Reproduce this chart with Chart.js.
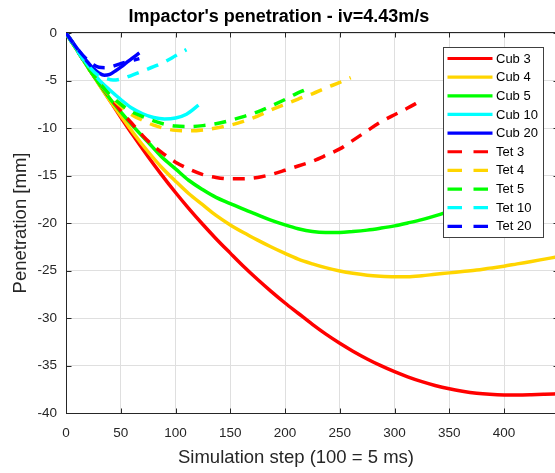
<!DOCTYPE html>
<html>
<head>
<meta charset="utf-8">
<script src="https://cdn.jsdelivr.net/npm/chart.js@4/dist/chart.umd.min.js"></script>
<style>
  html, body { margin: 0; padding: 0; overflow: hidden; background: #fff; }
  canvas { display: block; }
</style>
</head>
<body>
<canvas id="c" width="590" height="473"></canvas>
<script>
// Cubic-mesh runs (solid lines): simulation step vs penetration in mm
const cub3Steps = [0, 10, 20, 30, 40, 50, 62, 75, 87, 100, 112, 125, 137, 150, 162, 175, 187, 200, 212, 225, 237, 250, 262, 275, 287, 300, 312, 325, 337, 350, 362, 375, 387, 400, 412, 425, 437, 449];
const cub3Pen   = [0, -1.78, -3.56, -5.34, -7.11, -8.86, -10.9, -13.02, -14.88, -16.79, -18.46, -20.16, -21.65, -23.17, -24.55, -25.95, -27.17, -28.42, -29.5, -30.67, -31.67, -32.66, -33.49, -34.31, -34.99, -35.65, -36.19, -36.7, -37.1, -37.45, -37.7, -37.91, -38.03, -38.1, -38.11, -38.08, -38.03, -37.97];

const cub4Steps = [0, 10, 20, 30, 40, 50, 62, 75, 87, 100, 112, 125, 137, 150, 162, 175, 187, 200, 212, 225, 237, 250, 262, 275, 287, 300, 312, 325, 337, 350, 362, 375, 387, 400, 412, 425, 437, 449];
const cub4Pen   = [0, -1.8, -3.6, -5.4, -7.1, -8.7, -10.6, -12.5, -14.1, -15.6, -16.9, -18.1, -19.2, -20.2, -21.0, -21.8, -22.5, -23.2, -23.8, -24.3, -24.7, -25.05, -25.3, -25.5, -25.6, -25.65, -25.65, -25.55, -25.4, -25.25, -25.1, -24.95, -24.75, -24.55, -24.3, -24.05, -23.8, -23.55];

const cub5Steps = [0, 10, 20, 30, 40, 50, 62, 75, 87, 100, 112, 125, 137, 150, 162, 175, 187, 200, 212, 225, 237, 250, 262, 275, 287, 300, 312, 325, 337, 345, 357, 370];
const cub5Pen   = [0, -1.8, -3.6, -5.3, -6.9, -8.3, -9.9, -11.5, -13.0, -14.3, -15.5, -16.5, -17.3, -17.95, -18.55, -19.15, -19.7, -20.2, -20.6, -20.9, -21.0, -21.0, -20.9, -20.75, -20.55, -20.3, -20.0, -19.65, -19.25, -18.95, -18.4, -17.7];

const cub10Steps = [0, 10, 20, 30, 40, 50, 60, 70, 80, 90, 100, 110, 121];
const cub10Pen   = [0, -1.7, -3.4, -4.9, -6.0, -7.0, -7.9, -8.5, -8.9, -9.05, -8.95, -8.55, -7.6];

const cub20Steps = [0, 5, 10, 15, 20, 25, 30, 35, 40, 45, 50, 55, 60, 67];
const cub20Pen   = [0, -0.8, -1.6, -2.4, -3.1, -3.75, -4.2, -4.45, -4.35, -4.0, -3.6, -3.15, -2.7, -2.1];

// Tetrahedral-mesh runs (dashed lines)
const tet3Steps = [0, 10, 20, 30, 40, 50, 60, 70, 80, 90, 100, 112, 125, 137, 150, 162, 175, 187, 200, 212, 225, 237, 250, 262, 275, 287, 300, 312, 323];
const tet3Pen   = [0, -1.8, -3.6, -5.2, -6.7, -8.2, -9.5, -10.8, -11.9, -12.8, -13.6, -14.3, -14.9, -15.2, -15.35, -15.35, -15.2, -14.9, -14.45, -14.0, -13.5, -12.9, -12.2, -11.3, -10.3, -9.4, -8.6, -7.9, -7.2];

const tet4Steps = [0, 10, 20, 30, 40, 50, 60, 70, 80, 90, 100, 112, 125, 137, 150, 162, 175, 187, 200, 212, 225, 237, 250, 260];
const tet4Pen   = [0, -1.8, -3.6, -5.2, -6.6, -7.7, -8.6, -9.2, -9.7, -10.05, -10.25, -10.3, -10.2, -10.0, -9.7, -9.3, -8.75, -8.1, -7.5, -6.95, -6.4, -5.8, -5.2, -4.7];

const tet5Steps = [0, 10, 20, 30, 40, 50, 60, 70, 80, 90, 100, 112, 125, 137, 150, 162, 175, 187, 200, 210, 218];
const tet5Pen   = [0, -1.8, -3.6, -5.2, -6.5, -7.5, -8.3, -8.8, -9.25, -9.6, -9.8, -9.85, -9.75, -9.55, -9.2, -8.8, -8.3, -7.7, -7.0, -6.4, -6.0];

const tet10Steps = [0, 10, 20, 30, 37, 43, 50, 60, 70, 80, 90, 100, 110];
const tet10Pen   = [0, -1.8, -3.4, -4.5, -4.8, -4.95, -4.85, -4.45, -4.0, -3.55, -3.05, -2.4, -1.75];

const tet20Steps = [0, 10, 20, 25, 30, 37, 43, 48, 55, 62, 67];
const tet20Pen   = [0, -1.6, -2.9, -3.35, -3.6, -3.65, -3.5, -3.3, -3.05, -2.85, -2.7];

// Axis ranges and tick labels
const stepMax = 449;
const xTicks = [0, 50, 100, 150, 200, 250, 300, 350, 400];
const penMin = -40;
const penMax = 0;
const yTicks = [-40, -35, -30, -25, -20, -15, -10, -5, 0];

const seriesLabels = ['Cub 3', 'Cub 4', 'Cub 5', 'Cub 10', 'Cub 20', 'Tet 3', 'Tet 4', 'Tet 5', 'Tet 10', 'Tet 20'];
const seriesSteps  = [cub3Steps, cub4Steps, cub5Steps, cub10Steps, cub20Steps, tet3Steps, tet4Steps, tet5Steps, tet10Steps, tet20Steps];
const seriesPen    = [cub3Pen, cub4Pen, cub5Pen, cub10Pen, cub20Pen, tet3Pen, tet4Pen, tet5Pen, tet10Pen, tet20Pen];
const seriesColors = ['#ff0000', '#ffd500', '#00ff00', '#00ffff', '#0000ff', '#ff0000', '#ffd500', '#00ff00', '#00ffff', '#0000ff'];

const FONT = "'Liberation Sans', Arial, Helvetica, sans-serif";
const INK = '#262626';
const X_TITLE = 'Simulation step (100 = 5 ms)';

const datasets = seriesLabels.map((label, i) => ({
  label,
  data: seriesSteps[i].map((s, k) => ({ x: s, y: seriesPen[i][k] })),
  borderColor: seriesColors[i],
  backgroundColor: seriesColors[i],
  borderWidth: 3.5,
  borderDash: label.startsWith('Tet') ? [12, 9] : [],
  borderCapStyle: 'butt',
  pointRadius: 0,
  fill: false,
  cubicInterpolationMode: 'monotone',
  order: seriesLabels.length - i   // later series are painted on top
}));

// Box around the plot area with inward tick marks on all four sides
const axisFrame = {
  id: 'axisFrame',
  beforeDatasetsDraw(chart) {
    const { ctx, chartArea: a, scales: { x, y } } = chart;
    ctx.save();
    ctx.strokeStyle = INK;
    ctx.lineWidth = 1;
    ctx.setLineDash([]);
    const L = Math.round(a.left) + 0.5, R = Math.round(a.right) + 0.5;
    const T = Math.round(a.top) - 0.5, B = Math.round(a.bottom) + 0.5;
    ctx.strokeRect(L, T, R - L, B - T);
    const tl = 5;
    ctx.beginPath();
    x.ticks.forEach(t => {
      const px = Math.round(x.getPixelForValue(t.value)) + 0.5;
      ctx.moveTo(px, B); ctx.lineTo(px, B - tl);
      ctx.moveTo(px, T); ctx.lineTo(px, T + tl);
    });
    y.ticks.forEach(t => {
      const py = Math.round(y.getPixelForValue(t.value)) + 0.5;
      ctx.moveTo(L, py); ctx.lineTo(L + tl, py);
      ctx.moveTo(R, py); ctx.lineTo(R - tl, py);
    });
    ctx.stroke();
    ctx.restore();
  }
};

// x-axis label, centred under the figure title
const xAxisLabel = {
  id: 'xAxisLabel',
  afterDraw(chart) {
    const { ctx } = chart;
    ctx.save();
    ctx.fillStyle = INK;
    ctx.font = '18.5px ' + FONT;
    ctx.textAlign = 'center';
    ctx.textBaseline = 'middle';
    ctx.fillText(X_TITLE, chart.width / 2 + 1, 458);
    ctx.restore();
  }
};

// Boxed legend in the upper right, painted over the curves
const boxedLegend = {
  id: 'boxedLegend',
  afterDatasetsDraw(chart) {
    const { ctx } = chart;
    const bx = 443, by = 47, bw = 100, bh = 190, rowH = 18.65;
    ctx.save();
    ctx.fillStyle = '#ffffff';
    ctx.fillRect(bx, by, bw, bh);
    ctx.strokeStyle = '#404040';
    ctx.lineWidth = 1;
    ctx.setLineDash([]);
    ctx.strokeRect(bx + 0.5, by + 0.5, bw, bh);
    ctx.font = '13px ' + FONT;
    ctx.textBaseline = 'middle';
    ctx.textAlign = 'left';
    chart.data.datasets.forEach((ds, i) => {
      const cy = by + 11.5 + i * rowH;
      ctx.beginPath();
      ctx.strokeStyle = ds.borderColor;
      ctx.lineWidth = 3.2;
      ctx.lineCap = 'butt';
      ctx.setLineDash(ds.borderDash && ds.borderDash.length ? [14.5, 11.5] : []);
      ctx.moveTo(bx + 4.5, cy);
      ctx.lineTo(bx + 49.5, cy);
      ctx.stroke();
      ctx.setLineDash([]);
      ctx.fillStyle = '#000000';
      ctx.fillText(ds.label, bx + 53, cy + 0.5);
    });
    ctx.restore();
  }
};

new Chart(document.getElementById('c'), {
  type: 'line',
  data: { datasets },
  plugins: [axisFrame, boxedLegend, xAxisLabel],
  options: {
    responsive: false,
    devicePixelRatio: 1,
    animation: false,
    layout: { padding: { left: 0, right: 32.3, top: 0, bottom: 0 } },
    plugins: {
      legend: { display: false },
      tooltip: { enabled: false },
      title: {
        display: true,
        text: "Impactor's penetration - iv=4.43m/s",
        color: '#000000',
        font: { family: FONT, size: 18, weight: 'bold', lineHeight: 1.2 },
        padding: { top: 6, bottom: 5.4 }
      }
    },
    scales: {
      x: {
        type: 'linear',
        min: 0,
        max: stepMax,
        afterFit(scale) { scale.height = 60; },
        afterBuildTicks(scale) { scale.ticks = xTicks.map(v => ({ value: v })); },
        ticks: {
          color: INK,
          font: { family: FONT, size: 13.5 },
          padding: 12,
          maxRotation: 0,
          autoSkip: false
        },
        grid: { color: '#dfdfdf', lineWidth: 1, drawTicks: false },
        border: { display: false },
        title: { display: false }
      },
      y: {
        type: 'linear',
        min: penMin,
        max: penMax,
        afterFit(scale) { scale.width = 66; },
        afterBuildTicks(scale) { scale.ticks = yTicks.map(v => ({ value: v })); },
        ticks: {
          color: INK,
          font: { family: FONT, size: 13.5 },
          padding: 9,
          autoSkip: false
        },
        grid: { color: '#dfdfdf', lineWidth: 1, drawTicks: false },
        border: { display: false },
        title: {
          display: true,
          text: 'Penetration [mm]',
          color: INK,
          font: { family: FONT, size: 18.5, lineHeight: 1.2 },
          padding: { top: 10, bottom: 0 }
        }
      }
    }
  }
});
</script>
</body>
</html>
